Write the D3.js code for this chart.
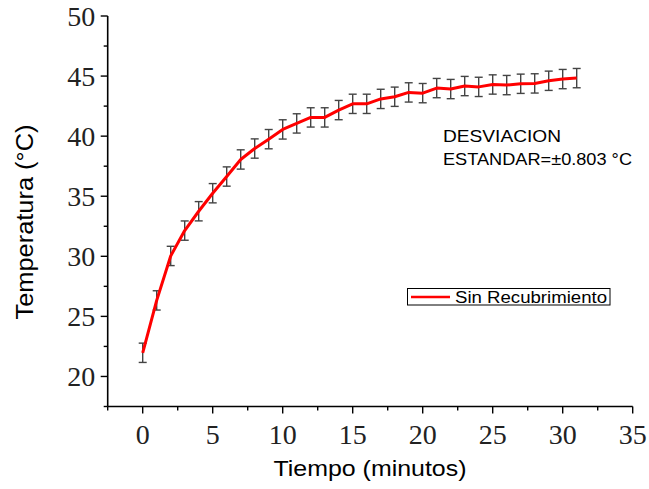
<!DOCTYPE html>
<html>
<head>
<meta charset="utf-8">
<script src="https://cdn.jsdelivr.net/npm/d3@7"></script>
<style>
  html, body { margin: 0; padding: 0; background: #fff; }
  svg { display: block; }
</style>
</head>
<body>
<svg id="chart" width="649" height="489"></svg>
<script>
// ---- data ----
const time = [0,1,2,3,4,5,6,7,8,9,10,11,12,13,14,15,16,17,18,19,20,21,22,23,24,25,26,27,28,29,30,31];
const temperature = [21.97,26.33,30.03,32.14,33.75,35.25,36.64,38.06,38.97,39.75,40.56,41.06,41.56,41.56,42.17,42.69,42.69,43.10,43.28,43.64,43.58,44.00,43.92,44.17,44.10,44.30,44.25,44.36,44.39,44.61,44.75,44.83];
const stdDev = 0.803;
const xTickValues = [-2.5,0,2.5,5,7.5,10,12.5,15,17.5,20,22.5,25,27.5,30,32.5,35];
const xTickLabels = [0,5,10,15,20,25,30,35];
const yTickValues = [17.5,20,22.5,25,27.5,30,32.5,35,37.5,40,42.5,45,47.5,50];
const yTickLabels = [20,25,30,35,40,45,50];
const seriesName = "Sin Recubrimiento";
const xTitle = "Tiempo (minutos)";
const yTitle = "Temperatura (°C)";
const noteLines = ["DESVIACION", "ESTANDAR=±0.803 °C"];

// ---- layout ----
const svg = d3.select("#chart");
const x = d3.scaleLinear().domain([-2.5, 35]).range([107.7, 632.7]);
const y = d3.scaleLinear().domain([17.5, 50]).range([406.5, 16]);

const serif = "'Liberation Serif', 'Times New Roman', serif";
const sans = "'Liberation Sans', Arial, sans-serif";

// X axis
const xAxisG = svg.append("g").attr("transform", `translate(0,${y(17.5)})`);
xAxisG.append("line").attr("x1", x(-2.5)).attr("x2", x(35)).attr("stroke", "#000").attr("stroke-width", 1.6);
xAxisG.selectAll("line.tick").data(xTickValues).enter().append("line")
  .attr("class", "tick")
  .attr("x1", d => x(d)).attr("x2", d => x(d))
  .attr("y1", 0).attr("y2", d => xTickLabels.includes(d) ? 7 : 4)
  .attr("stroke", "#000").attr("stroke-width", 1.4);
xAxisG.selectAll("text").data(xTickLabels).enter().append("text")
  .attr("x", d => x(d)).attr("y", 37.5)
  .attr("text-anchor", "middle")
  .attr("font-family", serif).attr("font-size", 28).attr("fill", "#222")
  .text(d => d);

// Y axis
const yAxisG = svg.append("g").attr("transform", `translate(${x(-2.5)},0)`);
yAxisG.append("line").attr("y1", y(17.5)).attr("y2", y(50)).attr("stroke", "#000").attr("stroke-width", 1.6);
yAxisG.selectAll("line.tick").data(yTickValues).enter().append("line")
  .attr("class", "tick")
  .attr("y1", d => y(d)).attr("y2", d => y(d))
  .attr("x1", 0).attr("x2", d => yTickLabels.includes(d) ? -7 : -4)
  .attr("stroke", "#000").attr("stroke-width", 1.4);
yAxisG.selectAll("text").data(yTickLabels).enter().append("text")
  .attr("x", -12.5).attr("y", d => y(d) + 10)
  .attr("text-anchor", "end")
  .attr("font-family", serif).attr("font-size", 28).attr("fill", "#222")
  .text(d => d);

// Axis titles
svg.append("text")
  .attr("x", 370).attr("y", 476)
  .attr("text-anchor", "middle")
  .attr("font-family", sans).attr("font-size", 22)
  .attr("textLength", 193).attr("lengthAdjust", "spacingAndGlyphs")
  .text(xTitle);
svg.append("text")
  .attr("transform", "translate(33,222) rotate(-90)")
  .attr("text-anchor", "middle")
  .attr("font-family", sans).attr("font-size", 23)
  .attr("textLength", 195).attr("lengthAdjust", "spacingAndGlyphs")
  .text(yTitle);

// Error bars
const capW = 4;
const eb = svg.append("g").attr("stroke", "#444").attr("stroke-width", 1.4).attr("fill", "none");
time.forEach((t, i) => {
  const v = temperature[i];
  const cx = x(t), y1 = y(v + stdDev), y2 = y(v - stdDev);
  eb.append("line").attr("x1", cx).attr("x2", cx).attr("y1", y1).attr("y2", y2);
  eb.append("line").attr("x1", cx - capW).attr("x2", cx + capW).attr("y1", y1).attr("y2", y1);
  eb.append("line").attr("x1", cx - capW).attr("x2", cx + capW).attr("y1", y2).attr("y2", y2);
});

// Line
const line = d3.line().x((d, i) => x(time[i])).y(d => y(d));
svg.append("path")
  .datum(temperature)
  .attr("d", line)
  .attr("fill", "none")
  .attr("stroke", "#ff0000")
  .attr("stroke-width", 3)
  .attr("stroke-linejoin", "round");

// Annotation
svg.append("text")
  .attr("x", 443).attr("y", 142)
  .attr("font-family", sans).attr("font-size", 17)
  .attr("textLength", 118).attr("lengthAdjust", "spacingAndGlyphs")
  .text(noteLines[0]);
svg.append("text")
  .attr("x", 443).attr("y", 165)
  .attr("font-family", sans).attr("font-size", 17)
  .attr("textLength", 189).attr("lengthAdjust", "spacingAndGlyphs")
  .text(noteLines[1]);

// Legend
const lg = svg.append("g");
lg.append("rect").attr("x", 407.5).attr("y", 288.5).attr("width", 202.5).attr("height", 16.5)
  .attr("fill", "#fff").attr("stroke", "#000").attr("stroke-width", 1);
lg.append("line").attr("x1", 411).attr("x2", 450).attr("y1", 297).attr("y2", 297)
  .attr("stroke", "#ff0000").attr("stroke-width", 2.5);
lg.append("text").attr("x", 455).attr("y", 302.5)
  .attr("font-family", sans).attr("font-size", 16)
  .attr("textLength", 152).attr("lengthAdjust", "spacingAndGlyphs")
  .text(seriesName);
</script>
</body>
</html>
